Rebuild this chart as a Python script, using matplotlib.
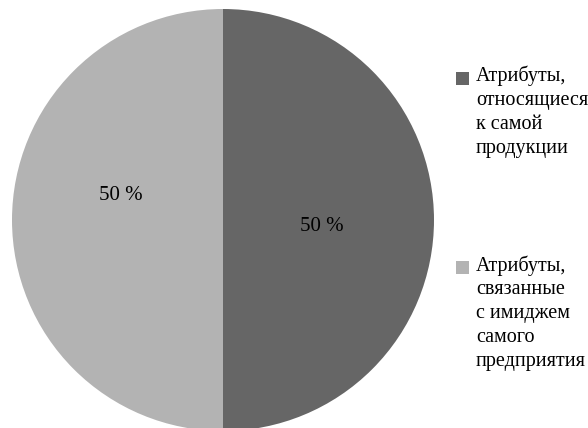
import matplotlib.pyplot as plt
from matplotlib.patches import Rectangle

labels = ['Атрибуты,\nотносящиеся\nк самой\nпродукции',
          'Атрибуты,\nсвязанные\nс имиджем\nсамого\nпредприятия']
values = [50, 50]
colors = ['#666666', '#b3b3b3']

plt.rcParams['font.family'] = ['Liberation Serif', 'DejaVu Serif']

W, H = 588, 428
fig = plt.figure(figsize=(W / 100, H / 100), dpi=100)
# pie axes: center (223, 220), radius ~211 px
r = 211
cx, cy = 223, 220
ax = fig.add_axes([(cx - r) / W, 1 - (cy + r) / H, 2 * r / W, 2 * r / H])
wedges, _ = ax.pie(values, colors=colors, startangle=90, counterclock=False,
                   radius=1.0, wedgeprops=dict(linewidth=0))
ax.set_xlim(-1, 1)
ax.set_ylim(-1, 1)
ax.set_aspect('auto')
ax.axis('off')

# percentage labels
pct_pos = [(0.469, -0.031), (-0.483, 0.118)]
for v, (x, y) in zip(values, pct_pos):
    ax.text(x, y, f'{v} %', ha='center', va='center', fontsize=15)

# legend drawn by hand (y = first line baseline in px)
legend_base = [84, 273]
for lab, col, y in zip(labels, colors, legend_base):
    fig.patches.append(Rectangle((456 / W, 1 - (y + 1) / H), 13 / W, 13 / H,
                                 transform=fig.transFigure, facecolor=col,
                                 edgecolor='none'))
    fig.text(476 / W, 1 - (y - 18) / H, lab, ha='left', va='top',
             fontsize=14.5, linespacing=1.35)

fig.savefig('out.png', dpi=100)
